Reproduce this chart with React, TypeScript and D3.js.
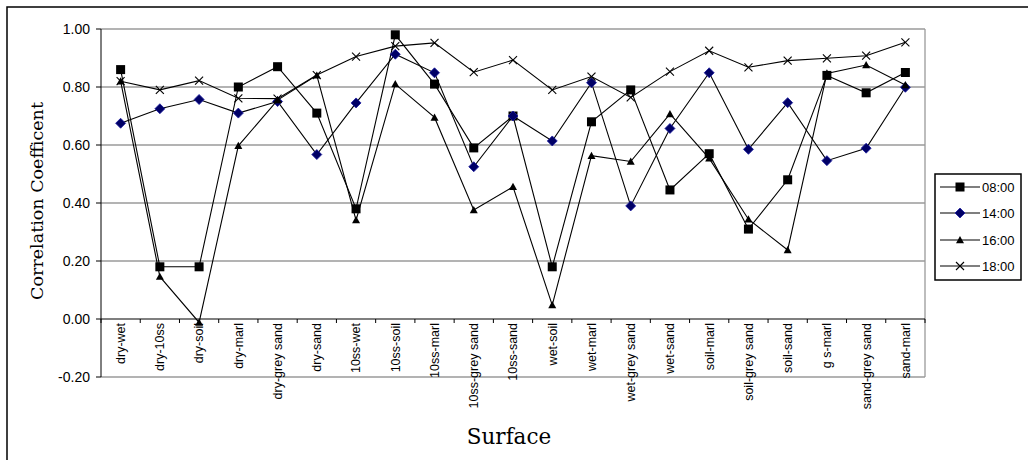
import React from "react";
import * as d3 from "d3";

const categories = [
  "dry-wet", "dry-10ss", "dry-soil", "dry-marl", "dry-grey sand", "dry-sand",
  "10ss-wet", "10ss-soil", "10ss-marl", "10ss-grey sand", "10ss-sand",
  "wet-soil", "wet-marl", "wet-grey sand", "wet-sand", "soil-marl",
  "soil-grey sand", "soil-sand", "g s-marl", "sand-grey sand", "sand-marl",
];

const s0800 = [0.86, 0.18, 0.18, 0.80, 0.87, 0.71, 0.38, 0.98, 0.81, 0.59, 0.70, 0.18, 0.68, 0.79, 0.445, 0.57, 0.31, 0.48, 0.84, 0.78, 0.85];
const s1400 = [0.675, 0.725, 0.757, 0.71, 0.75, 0.567, 0.745, 0.913, 0.849, 0.525, 0.70, 0.614, 0.815, 0.39, 0.657, 0.849, 0.585, 0.746, 0.546, 0.589, 0.799];
const s1600 = [0.82, 0.146, -0.012, 0.597, 0.755, 0.84, 0.341, 0.81, 0.695, 0.376, 0.456, 0.048, 0.563, 0.543, 0.707, 0.554, 0.344, 0.238, 0.847, 0.876, 0.807];
const s1800 = [0.82, 0.79, 0.822, 0.761, 0.76, 0.841, 0.905, 0.941, 0.952, 0.851, 0.893, 0.79, 0.836, 0.764, 0.853, 0.925, 0.868, 0.891, 0.899, 0.908, 0.954];

const seriesNames = ["08:00", "14:00", "16:00", "18:00"];
const yTicks = [-0.2, 0, 0.2, 0.4, 0.6, 0.8, 1.0];

const W = 1028, H = 460;
const plot = { left: 101, right: 925, top: 29, bottom: 377 };

const x = d3.scaleBand<string>().domain(categories).range([plot.left, plot.right]).padding(0);
const y = d3.scaleLinear().domain([-0.2, 1.0]).range([plot.bottom, plot.top]);

const SANS = "'Liberation Sans', Arial, sans-serif";
const SERIF = "'DejaVu Serif', serif";

function Marker({ kind, cx, cy }: { kind: number; cx: number; cy: number }) {
  if (kind === 0) {
    return <rect x={cx - 4.5} y={cy - 4.5} width={9} height={9} fill="#000" />;
  }
  if (kind === 1) {
    const s = 5;
    return (
      <path d={`M${cx},${cy - s}L${cx + s},${cy}L${cx},${cy + s}L${cx - s},${cy}Z`} fill="#000066" stroke="#1a1aa0" strokeWidth={0.8} />
    );
  }
  if (kind === 2) {
    const s = 4;
    return <path d={`M${cx},${cy - s}L${cx + s},${cy + s * 0.8}L${cx - s},${cy + s * 0.8}Z`} fill="#000" />;
  }
  const s = 4;
  return (
    <g stroke="#000" strokeWidth={1.1}>
      <line x1={cx - s} y1={cy - s} x2={cx + s} y2={cy + s} />
      <line x1={cx - s} y1={cy + s} x2={cx + s} y2={cy - s} />
    </g>
  );
}

export default function App() {
  const allSeries = [s0800, s1400, s1600, s1800];
  const cx = (c: string) => (x(c) as number) + x.bandwidth() / 2;
  const line = d3.line<number>().x((_, i) => cx(categories[i])).y((d) => y(d));

  const legendY = [187, 213, 240, 266];

  return (
    <svg width={W} height={H} style={{ position: "absolute", left: 0, top: 0, background: "#fff" }}>
      <rect x={0} y={0} width={W} height={H} fill="#fff" />
      <rect x={7} y={7} width={W + 10} height={H + 10} fill="none" stroke="#000" strokeWidth={1.5} />

      {yTicks.filter((t) => t !== 0).map((t) => (
        <line key={t} x1={plot.left} x2={plot.right} y1={y(t)} y2={y(t)} stroke="#9a9a9a" strokeWidth={1.3} />
      ))}
      <line x1={plot.right} x2={plot.right} y1={plot.top} y2={plot.bottom} stroke="#9a9a9a" strokeWidth={1.3} />

      <line x1={plot.left} x2={plot.left} y1={plot.top} y2={plot.bottom} stroke="#000" strokeWidth={1} />
      {yTicks.map((t) => (
        <g key={t}>
          <line x1={plot.left - 5} x2={plot.left} y1={y(t)} y2={y(t)} stroke="#000" />
          <text x={90} y={y(t)} dy="0.35em" textAnchor="end" fontFamily={SANS} fontSize={14} fill="#000">
            {t.toFixed(2)}
          </text>
        </g>
      ))}

      <line x1={plot.left} x2={plot.right} y1={y(0)} y2={y(0)} stroke="#000" strokeWidth={1.2} />
      {categories.map((c, i) => (
        <line key={"t" + i} x1={x(c) as number} x2={x(c) as number} y1={y(0)} y2={y(0) + 4} stroke="#000" />
      ))}
      <line x1={plot.right} x2={plot.right} y1={y(0)} y2={y(0) + 4} stroke="#000" />
      {categories.map((c) => (
        <text
          key={c}
          transform={`translate(${cx(c)},${y(0) + 4}) rotate(-90)`}
          dy="0.35em"
          textAnchor="end"
          fontFamily={SANS}
          fontSize={12.5}
          fill="#000"
        >
          {c}
        </text>
      ))}

      {allSeries.map((s, k) => (
        <g key={k}>
          <path d={line(s) || ""} fill="none" stroke="#000" strokeWidth={1.1} />
          {s.map((v, i) => (
            <Marker key={i} kind={k} cx={cx(categories[i])} cy={y(v)} />
          ))}
        </g>
      ))}

      <text transform={`translate(43,${(plot.top + plot.bottom) / 2 - 2}) rotate(-90)`} textAnchor="middle" fontFamily={SERIF} fontSize={17.5} fill="#000">
        Correlation Coefficent
      </text>
      <text x={509} y={444} textAnchor="middle" fontFamily={SERIF} fontSize={21.5} fill="#000">
        Surface
      </text>

      <rect x={935} y={174} width={86} height={106} fill="#fff" stroke="#000" strokeWidth={1.5} />
      {seriesNames.map((n, k) => (
        <g key={n}>
          <line x1={940} x2={980} y1={legendY[k]} y2={legendY[k]} stroke="#000" strokeWidth={1.1} />
          <Marker kind={k} cx={960} cy={legendY[k]} />
          <text x={982} y={legendY[k]} dy="0.35em" fontFamily={SANS} fontSize={13} fill="#000">
            {n}
          </text>
        </g>
      ))}
    </svg>
  );
}
